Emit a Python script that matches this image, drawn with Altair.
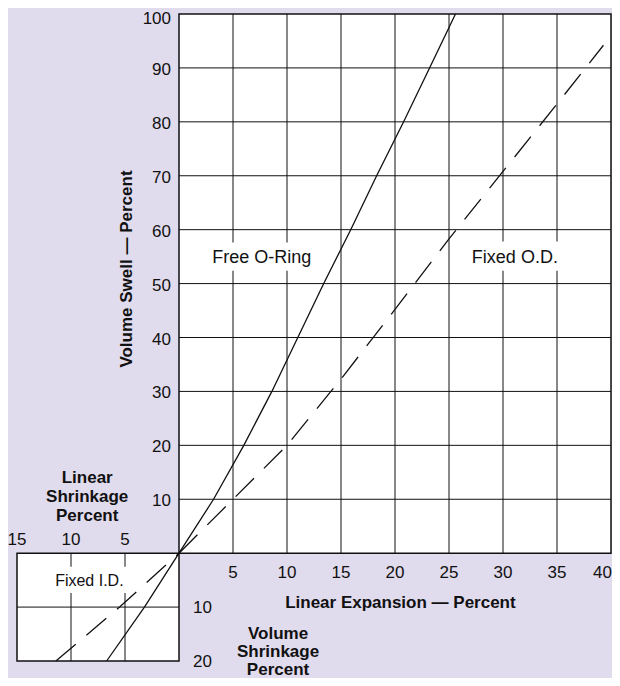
import altair as alt
import pandas as pd

# ---- data ----
free_x = [-6.7, -3.2, 0, 3.2, 6.0, 8.6, 11.0, 13.4, 15.9, 18.3, 20.8, 23.2, 25.6]
free_y = [-20, -10, 0, 10, 20, 30, 40, 50, 60, 70, 80, 90, 100]

od_x = [0, 5, 10, 15, 20, 25, 30, 35, 39.3]
od_y = [0, 10, 20, 32.3, 45.2, 58.3, 70.8, 83.3, 94.2]

id_x = [-11.4, -5.5, 0]
id_y = [-20, -10, 0]

x_ticks_main = [5, 10, 15, 20, 25, 30, 35, 40]
y_ticks_main = [10, 20, 30, 40, 50, 60, 70, 80, 90, 100]
x_ticks_shrink = [-15, -10, -5]
x_ticks_shrink_labels = ["15", "10", "5"]
y_ticks_shrink = [-10, -20]
y_ticks_shrink_labels = ["10", "20"]

FONT = "Liberation Sans"
BG = "#e0dbed"
INK = "#111111"

xs = alt.Scale(domain=[-15, 40], nice=False, zero=False)
ys = alt.Scale(domain=[-20, 100], nice=False, zero=False)


def X(f="x"):
    return alt.X(f"{f}:Q", scale=xs, axis=None)


def Y(f="y"):
    return alt.Y(f"{f}:Q", scale=ys, axis=None)


one = pd.DataFrame({"k": [0]})

# plot panels
panels = pd.DataFrame({"x": [0, -15], "x2": [40, 0], "y": [0, -20], "y2": [100, 0]})
panel_fill = alt.Chart(panels).mark_rect(fill="white", strokeWidth=0).encode(
    x=X(), x2="x2:Q", y=Y(), y2="y2:Q")
panel_border = alt.Chart(panels).mark_rect(fill=None, stroke=INK, strokeWidth=1.5).encode(
    x=X(), x2="x2:Q", y=Y(), y2="y2:Q")

# grid segments
segs = []
for v in x_ticks_main[:-1]:
    segs.append({"x": v, "x2": v, "y": 0, "y2": 100})
for v in y_ticks_main[:-1]:
    segs.append({"x": 0, "x2": 40, "y": v, "y2": v})
for v in x_ticks_shrink[1:]:
    segs.append({"x": v, "x2": v, "y": -20, "y2": 0})
for v in y_ticks_shrink[:-1]:
    segs.append({"x": -15, "x2": 0, "y": v, "y2": v})
grid = alt.Chart(pd.DataFrame(segs)).mark_rule(color=INK, strokeWidth=1).encode(
    x=X(), x2="x2:Q", y=Y(), y2="y2:Q")

# white backgrounds behind in-plot labels
label_bg = pd.DataFrame({"x": [2.8, 26.9, -11.7], "x2": [12.5, 35.4, -4.7],
                         "y": [52.4, 52.4, -7.4], "y2": [57.6, 57.8, -2.5]})
label_bg_layer = alt.Chart(label_bg).mark_rect(fill="white").encode(
    x=X(), x2="x2:Q", y=Y(), y2="y2:Q")

# curves
free_df = pd.DataFrame({"x": free_x, "y": free_y, "o": range(len(free_x))})
od_df = pd.DataFrame({"x": od_x, "y": od_y, "o": range(len(od_x))})
id_df = pd.DataFrame({"x": id_x, "y": id_y, "o": range(len(id_x))})

free_line = alt.Chart(free_df).mark_line(color=INK, strokeWidth=1.3).encode(
    x=X(), y=Y(), order="o:Q")
od_line = alt.Chart(od_df).mark_line(color=INK, strokeWidth=1.3, strokeDash=[26, 14]).encode(
    x=X(), y=Y(), order="o:Q")
id_line = alt.Chart(id_df).mark_line(color=INK, strokeWidth=1.3, strokeDash=[26, 14]).encode(
    x=X(), y=Y(), order="o:Q")

# tick labels
xt = pd.DataFrame({"x": x_ticks_main[:-1], "y": [0] * (len(x_ticks_main) - 1),
                   "t": [str(v) for v in x_ticks_main[:-1]]})
xt_layer = alt.Chart(xt).mark_text(font=FONT, fontSize=17, color=INK, align="center",
                                   baseline="alphabetic", dy=25).encode(x=X(), y=Y(), text="t:N")
xt_last = pd.DataFrame({"x": x_ticks_main[-1:], "y": [0], "t": [str(x_ticks_main[-1])]})
xt_last_layer = alt.Chart(xt_last).mark_text(font=FONT, fontSize=17, color=INK, align="right",
                                             baseline="alphabetic", dx=1, dy=25).encode(
    x=X(), y=Y(), text="t:N")
yt = pd.DataFrame({"x": [0] * (len(y_ticks_main) - 1), "y": y_ticks_main[:-1],
                   "t": [str(v) for v in y_ticks_main[:-1]]})
yt_layer = alt.Chart(yt).mark_text(font=FONT, fontSize=17, color=INK, align="right",
                                   baseline="alphabetic", dx=-8, dy=7).encode(x=X(), y=Y(), text="t:N")
yt_top = pd.DataFrame({"x": [0], "y": y_ticks_main[-1:], "t": [str(y_ticks_main[-1])]})
yt_top_layer = alt.Chart(yt_top).mark_text(font=FONT, fontSize=17, color=INK, align="right",
                                           baseline="alphabetic", dx=-8, dy=10).encode(
    x=X(), y=Y(), text="t:N")
xs_t = pd.DataFrame({"x": x_ticks_shrink, "y": [0] * 3, "t": x_ticks_shrink_labels})
xs_layer = alt.Chart(xs_t).mark_text(font=FONT, fontSize=17, color=INK, align="center",
                                     baseline="alphabetic", dy=-8).encode(x=X(), y=Y(), text="t:N")
ys_t = pd.DataFrame({"x": [0, 0], "y": y_ticks_shrink, "t": y_ticks_shrink_labels})
ys_layer = alt.Chart(ys_t).mark_text(font=FONT, fontSize=17, color=INK, align="left",
                                     baseline="alphabetic", dx=14, dy=6).encode(x=X(), y=Y(), text="t:N")


def label(txt, x, y, size, weight="normal", angle=0, baseline="alphabetic", lh=19):
    return alt.Chart(one).mark_text(text=txt, font=FONT, fontSize=size, fontWeight=weight,
                                    color=INK, align="center", baseline=baseline, angle=angle,
                                    lineBreak="\n", lineHeight=lh).encode(
        x=alt.X("xv:Q", scale=xs, axis=None),
        y=alt.Y("yv:Q", scale=ys, axis=None)).transform_calculate(xv=str(x), yv=str(y))


texts = [
    label("Volume Swell \u2014 Percent", -4.84, 52.7, 17, "bold", angle=270, baseline="middle"),
    label("Linear Expansion \u2014 Percent", 20.5, -10.2, 17, "bold"),
    label("Volume\nShrinkage\nPercent", 9.17, -15.9, 17, "bold", lh=18),
    label("Linear\nShrinkage\nPercent", -8.5, 13.0, 17, "bold"),
    label("Free O-Ring", 7.67, 53.8, 18),
    label("Fixed O.D.", 31.1, 53.8, 18),
    label("Fixed I.D.", -8.3, -6.0, 16),
]

chart = alt.layer(
    panel_fill, grid, label_bg_layer, free_line, od_line, id_line,
    xt_layer, xt_last_layer, yt_layer, yt_top_layer, xs_layer, ys_layer, *texts, panel_border,
).properties(
    width=594, height=647,
    autosize=alt.AutoSizeParams(type="none"),
    padding={"left": 9, "top": 6, "right": 1, "bottom": 17},
    background=BG,
).configure_view(stroke=None, fill=None)

chart.save("out.html", embed_options={"renderer": "svg", "actions": False})
